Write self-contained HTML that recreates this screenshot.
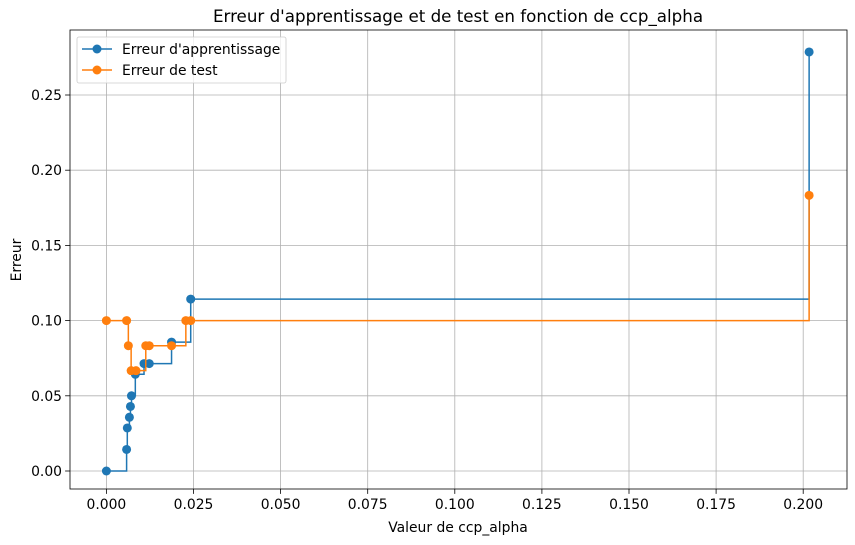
<!DOCTYPE html>
<html><head><meta charset="utf-8"><style>
body{margin:0;background:#fff;}
svg{display:block;font-family:"DejaVu Sans","Liberation Sans",sans-serif;}
</style></head><body>
<svg id="chart" width="855" height="545" xmlns="http://www.w3.org/2000/svg"></svg>
<script>
const xTicks=[0,0.025,0.05,0.075,0.1,0.125,0.15,0.175,0.2];
const xTickLabels=["0.000","0.025","0.050","0.075","0.100","0.125","0.150","0.175","0.200"];
const yTicks=[0,0.05,0.1,0.15,0.2,0.25];
const yTickLabels=["0.00","0.05","0.10","0.15","0.20","0.25"];
const trainAlpha=[0,0.0058,0.006,0.0066,0.0069,0.0072,0.0083,0.0108,0.0123,0.0187,0.0242,0.2017];
const trainErr=[0,0.0143,0.0286,0.0357,0.0429,0.05,0.0643,0.0714,0.0714,0.0857,0.1143,0.2786];
const testAlpha=[0,0.0058,0.0063,0.0071,0.0085,0.0113,0.0123,0.0187,0.0228,0.0242,0.2017];
const testErr=[0.1,0.1,0.0833,0.0667,0.0667,0.0833,0.0833,0.0833,0.1,0.1,0.1833];
const svg=document.getElementById('chart');
const NS='http://www.w3.org/2000/svg';
const L=70,R=847,T=30,B=489;
const X=v=>106.4+v*3484;
const Y=v=>471-v*1504;
function mk(tag,attrs,parent){const e=document.createElementNS(NS,tag);for(const k in attrs)e.setAttribute(k,attrs[k]);(parent||svg).appendChild(e);return e;}
const grid=mk('g',{});


xTicks.forEach((t,i)=>{
 mk('line',{x1:X(t),x2:X(t),y1:T,y2:B,stroke:'#b0b0b0','stroke-width':0.8},grid);
 mk('line',{x1:X(t),x2:X(t),y1:B,y2:B+4.9,stroke:'#000','stroke-width':0.8});
 const tx=mk('text',{x:X(t),y:B+20,'text-anchor':'middle','font-size':'13.9px'});
 tx.textContent=xTickLabels[i];
 
 
});
yTicks.forEach((t,i)=>{
 mk('line',{x1:L,x2:R,y1:Y(t),y2:Y(t),stroke:'#b0b0b0','stroke-width':0.8},grid);
 mk('line',{x1:L-4.9,x2:L,y1:Y(t),y2:Y(t),stroke:'#000','stroke-width':0.8});
 const tx=mk('text',{x:L-8,y:Y(t)+5,'text-anchor':'end','font-size':'13.9px'});
 tx.textContent=yTickLabels[i];
 
 
});
function series(xs,ys,color,name){
 const g=mk('g',{});
 
 
 let d='M'+X(xs[0])+','+Y(ys[0]);
 for(let i=1;i<xs.length;i++){d+=' H'+X(xs[i])+' V'+Y(ys[i]);}
 mk('path',{d:d,fill:'none',stroke:color,'stroke-width':1.5},g);
 xs.forEach((x,i)=>{const c=mk('circle',{cx:X(x),cy:Y(ys[i]),r:4.5,fill:color},g);
  
  });
}
series(trainAlpha,trainErr,'#1f77b4','train-error-series');
series(testAlpha,testErr,'#ff7f0e','test-error-series');
const frame=mk('rect',{x:L,y:T,width:R-L,height:B-T,fill:'none',stroke:'#000','stroke-width':0.8});


const title=mk('text',{x:458,y:22,'text-anchor':'middle','font-size':'16.7px'});
title.textContent="Erreur d'apprentissage et de test en fonction de ccp_alpha";


const xl=mk('text',{x:458,y:532,'text-anchor':'middle','font-size':'13.9px'});
xl.textContent='Valeur de ccp_alpha';


const yl=mk('text',{x:21,y:260,'text-anchor':'middle','font-size':'13.9px',transform:'rotate(-90 21 260)'});
yl.textContent='Erreur';


const lg=mk('g',{});


mk('rect',{x:77,y:37,width:209,height:46,rx:2,fill:'#fff','fill-opacity':0.8,stroke:'#ccc','stroke-width':0.8},lg);
[['#1f77b4',"Erreur d'apprentissage",49],['#ff7f0e','Erreur de test',70]].forEach(([c,t,y])=>{
 const e=mk('g',{},lg);
 
 
 mk('line',{x1:82,x2:112,y1:y,y2:y,stroke:c,'stroke-width':1.5},e);
 mk('circle',{cx:97,cy:y,r:4.5,fill:c},e);
 const tx=mk('text',{x:122,y:y+5,'font-size':'13.9px'},e);tx.textContent=t;
});
</script>
</body></html>
